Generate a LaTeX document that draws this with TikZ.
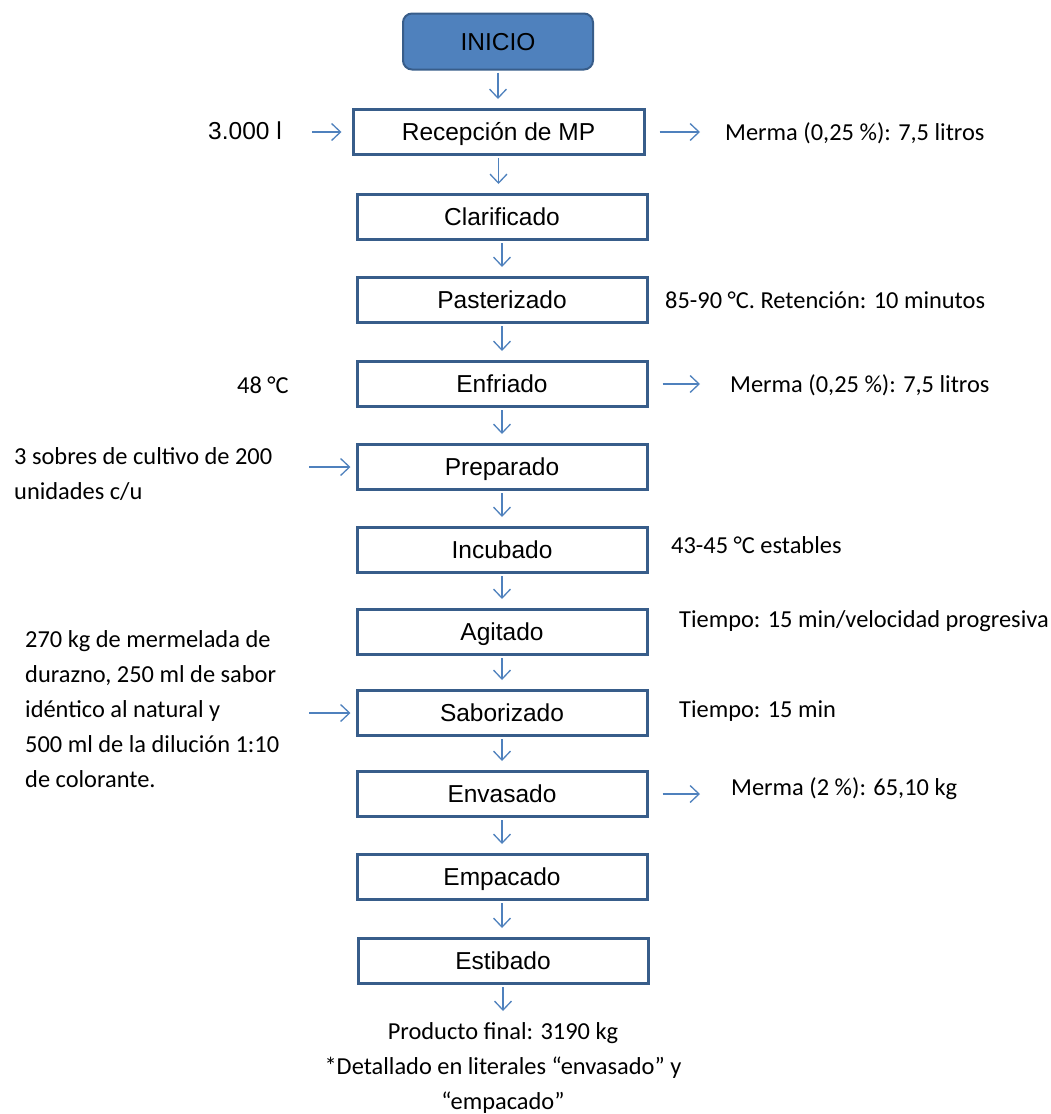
\documentclass[tikz,border=0pt]{standalone}
\usepackage{fontspec}
\setmainfont{Carlito}
\newfontfamily\arialfont{Liberation Sans}
\usetikzlibrary{arrows.meta}
\definecolor{bordeazul}{HTML}{385D8A}
\definecolor{flechaazul}{HTML}{4F81BD}
\newcommand{\myBajada}[2]{
\draw[flecha] ([yshift=-2pt]#1.south) -- ([yshift=9pt]#1.south |- #2.north);
}
\tikzset{
  paso/.style={draw=bordeazul, line width=3pt, minimum width=290pt, minimum height=45pt,
    inner sep=0pt, font=\arialfont\fontsize{24.5}{29}\selectfont, text height=19.5pt, text depth=1.8pt},
  inicio/.style={paso, fill=flechaazul, line width=2pt, rounded corners=9pt, minimum width=190pt, minimum height=56pt},
  flecha/.style={draw=flechaazul, line width=1.3pt, -{Straight Barb[length=9pt,width=17pt]}},
  nota/.style={anchor=base west, inner sep=0pt, font=\fontsize{24.4}{35}\selectfont},
  bloque/.style={anchor=north west, inner sep=0pt, align=left, font=\fontsize{24.4}{35}\selectfont},
}

\begin{document}
\begin{tikzpicture}[x=1pt,y=-1pt]
  \useasboundingbox (0,0) rectangle (1051,1114);
  % process steps
  \node[inicio] (ini) at (498,41.5) {INICIO};
  \node[paso, minimum width=291pt] (recep) at (498.5,132) {Recepción de MP};
  \node[paso] (clar) at (502,217) {Clarificado};
  \node[paso] (past) at (502,300) {Pasterizado};
  \node[paso] (enfr) at (502,384) {Enfriado};
  \node[paso] (prep) at (502,467) {Preparado};
  \node[paso] (incub) at (502,550) {Incubado};
  \node[paso] (agit) at (502,632) {Agitado};
  \node[paso] (sabor) at (502,713) {Saborizado};
  \node[paso] (envas) at (502,794) {Envasado};
  \node[paso] (empac) at (502,877) {Empacado};
  \node[paso] (estib) at (503,961) {Estibado};
  % inputs and notes
  \node[nota, font=\arialfont\fontsize{24.5}{29}\selectfont] (cantidad) at (208,139) {3.000 l};
  \node[nota] (merma1) at (725,140) {Merma (0,25 \%): 7,5 litros};
  \node[nota] (pasnota) at (665,308) {85-90 °C. Retención: 10 minutos};
  \node[nota] (temp) at (237,393) {48 °C};
  \node[nota] (merma2) at (730,392) {Merma (0,25 \%): 7,5 litros};
  \node[bloque] (cultivo) at (14,447) {3 sobres de cultivo de 200\\unidades c/u};
  \node[nota] (incnota) at (671,553) {43-45 °C estables};
  \node[nota] (agitnota) at (679,627) {Tiempo: 15 min/velocidad progresiva};
  \node[bloque] (sabores) at (25,630) {270 kg de mermelada de\\durazno, 250 ml de sabor\\idéntico al natural y\\500 ml de la dilución 1:10\\de colorante.};
  \node[nota] (sabnota) at (679,717) {Tiempo: 15 min};
  \node[nota] (merma3) at (731,795) {Merma (2 \%): 65,10 kg};
  \node[bloque, anchor=north, align=center, font=\fontsize{24.4}{35}\selectfont] (final) at (503,1022)
    {Producto final: 3190 kg\\*Detallado en literales “envasado” y\\“empacado”};
  % main flow
  \myBajada{ini}{recep}
  \myBajada{recep}{clar}
  \myBajada{clar}{past}
  \myBajada{past}{enfr}
  \myBajada{enfr}{prep}
  \myBajada{prep}{incub}
  \myBajada{incub}{agit}
  \myBajada{agit}{sabor}
  \myBajada{sabor}{envas}
  \myBajada{envas}{empac}
  \myBajada{empac}{estib}
  \draw[flecha] ([yshift=-2pt]estib.south) -- ([yshift=11pt]estib.south |- final.north);
  % side arrows
  \draw[flecha] ([xshift=30pt]cantidad.east |- recep.west) -- ([xshift=-10pt]recep.west);
  \draw[flecha] ([xshift=14pt]recep.east) -- ([xshift=-25pt]merma1.west |- recep.east);
  \draw[flecha] ([xshift=14pt]enfr.east) -- ([xshift=-30pt]merma2.west |- enfr.east);
  \draw[flecha] ([xshift=37pt]cultivo.east |- prep.west) -- ([xshift=-5pt]prep.west);
  \draw[flecha] ([xshift=30pt]sabores.east |- sabor.west) -- ([xshift=-5pt]sabor.west);
  \draw[flecha] ([xshift=14pt]envas.east) -- ([xshift=-31pt]merma3.west |- envas.east);
\end{tikzpicture}
\end{document}
